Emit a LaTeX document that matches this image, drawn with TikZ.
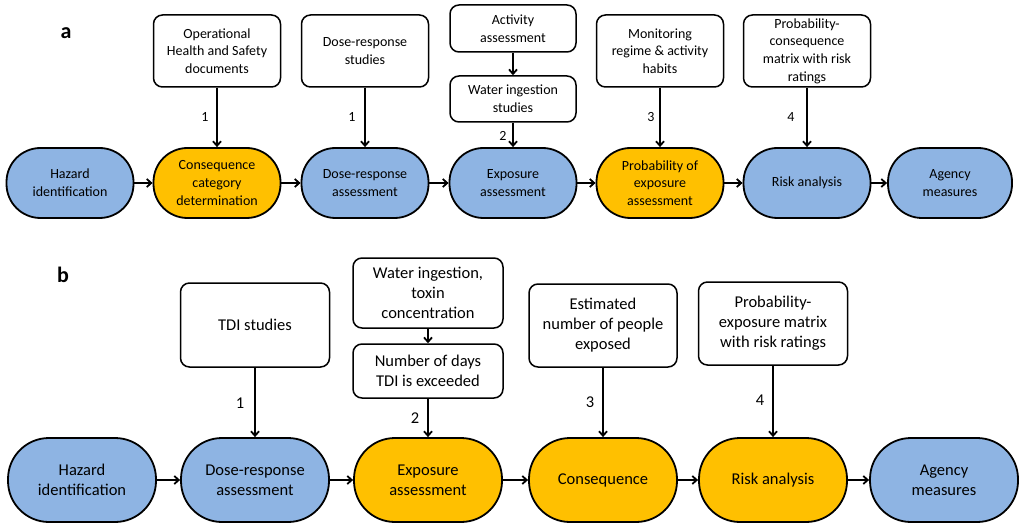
\documentclass[tikz,border=0pt]{standalone}
\usepackage{fontspec}
\setmainfont{Carlito}
\usetikzlibrary{arrows.meta}
\definecolor{stepblue}{HTML}{8EB4E3}
\definecolor{stepgold}{HTML}{FFC000}
\tikzset{
  pill/.style={draw=black,line width=1.8pt,rectangle,rounded corners=#1,align=center,inner sep=1pt},
  pill/.default=34pt,
  srcbox/.style={draw=black,line width=1.5pt,fill=white,rectangle,rounded corners=9pt,align=center,inner sep=1pt},
  flow/.style={line width=1.8pt,-{Straight Barb[length=4.5pt,width=8pt]}},
  sizea/.style={font=\fontsize{14}{17.7}\selectfont},
  sizeb/.style={font=\fontsize{16.5}{20}\selectfont}
}
\begin{document}
\begin{tikzpicture}[x=1pt,y=-1pt]
\useasboundingbox (0,0) rectangle (1024,529);
\node[font=\fontsize{22}{24}\bfseries] (la) at (66,33) {a};
\node[font=\fontsize{22}{24}\bfseries] (lb) at (63,275) {b};
% panel a
\begin{scope}[every node/.append style={sizea}]
\node[pill,fill=stepblue,minimum width=127pt,minimum height=70pt] (ha) at (70,183) {Hazard\\identification};
\node[pill,fill=stepgold,minimum width=127pt,minimum height=70pt] (cc) at (217,183) {Consequence\\category\\determination};
\node[pill,fill=stepblue,minimum width=127pt,minimum height=70pt] (dr) at (365,183) {Dose-response\\assessment};
\node[pill,fill=stepblue,minimum width=127pt,minimum height=70pt] (ex) at (513,183) {Exposure\\assessment};
\node[pill,fill=stepgold,minimum width=127pt,minimum height=70pt] (pe) at (660,183) {Probability of\\exposure\\assessment};
\node[pill,fill=stepblue,minimum width=127pt,minimum height=70pt] (ra) at (807,183) {Risk analysis};
\node[pill,fill=stepblue,minimum width=124pt,minimum height=70pt] (am) at (950,183) {Agency\\measures};
\node[srcbox,minimum width=127pt,minimum height=72pt] (op) at (217,51) {Operational\\Health and Safety\\documents};
\node[srcbox,minimum width=127pt,minimum height=72pt] (ds) at (365,51) {Dose-response\\studies};
\node[srcbox,minimum width=126pt,minimum height=47pt] (ac) at (513,28.5) {Activity\\assessment};
\node[srcbox,minimum width=126pt,minimum height=46pt] (wi) at (513,99) {Water ingestion\\studies};
\node[srcbox,minimum width=127pt,minimum height=72pt] (mo) at (660,51) {Monitoring\\regime \& activity\\habits};
\node[srcbox,minimum width=127pt,minimum height=72pt] (pc) at (807,51) {Probability-\\consequence\\matrix with risk\\ratings};
\node (n1a) at (205,117) {1};
\node (n2a) at (352,117) {1};
\node (n3a) at (503,136) {2};
\node (n4a) at (651,117) {3};
\node (n5a) at (791,117) {4};
\end{scope}
\foreach \a/\b in {ha/cc,cc/dr,dr/ex,ex/pe,pe/ra,ra/am}
\draw[flow] (\a) -- (\b);
\foreach \a/\b in {op/cc,ds/dr,ac/wi,wi/ex,mo/pe,pc/ra}
\draw[flow] (\a.south) -- (\b.north);
% panel b
\begin{scope}[every node/.append style={sizeb}]
\node[pill=41pt,fill=stepblue,minimum width=148pt,minimum height=84pt] (hb) at (82,480) {Hazard\\identification};
\node[pill=41pt,fill=stepblue,minimum width=148pt,minimum height=84pt] (db) at (255,480) {Dose-response\\assessment};
\node[pill=41pt,fill=stepgold,minimum width=148pt,minimum height=84pt] (eb) at (428,480) {Exposure\\assessment};
\node[pill=41pt,fill=stepgold,minimum width=148pt,minimum height=84pt] (cb) at (603,480) {Consequence};
\node[pill=41pt,fill=stepgold,minimum width=148pt,minimum height=84pt] (rb) at (773,480) {Risk analysis};
\node[pill=41pt,fill=stepblue,minimum width=148pt,minimum height=84pt] (ab) at (944,480) {Agency\\measures};
\node[srcbox,minimum width=149pt,minimum height=84pt] (td) at (255,325) {TDI studies};
\node[srcbox,minimum width=150pt,minimum height=70pt] (wt) at (428,293) {Water ingestion,\\toxin\\concentration};
\node[srcbox,minimum width=150pt,minimum height=54pt] (nd) at (428,371) {Number of days\\TDI is exceeded};
\node[srcbox,minimum width=148pt,minimum height=83pt] (en) at (603,325.5) {Estimated\\number of people\\exposed};
\node[srcbox,minimum width=149pt,minimum height=83pt] (px) at (773,323.5) {Probability-\\exposure matrix\\with risk ratings};
\node (n1b) at (240,403) {1};
\node (n2b) at (415,418) {2};
\node (n3b) at (590,402) {3};
\node (n4b) at (760,400) {4};
\end{scope}
\foreach \a/\b in {hb/db,db/eb,eb/cb,cb/rb,rb/ab}
\draw[flow] (\a) -- (\b);
\foreach \a/\b in {td/db,wt/nd,nd/eb,en/cb,px/rb}
\draw[flow] (\a.south) -- (\b.north);
\end{tikzpicture}
\end{document}
